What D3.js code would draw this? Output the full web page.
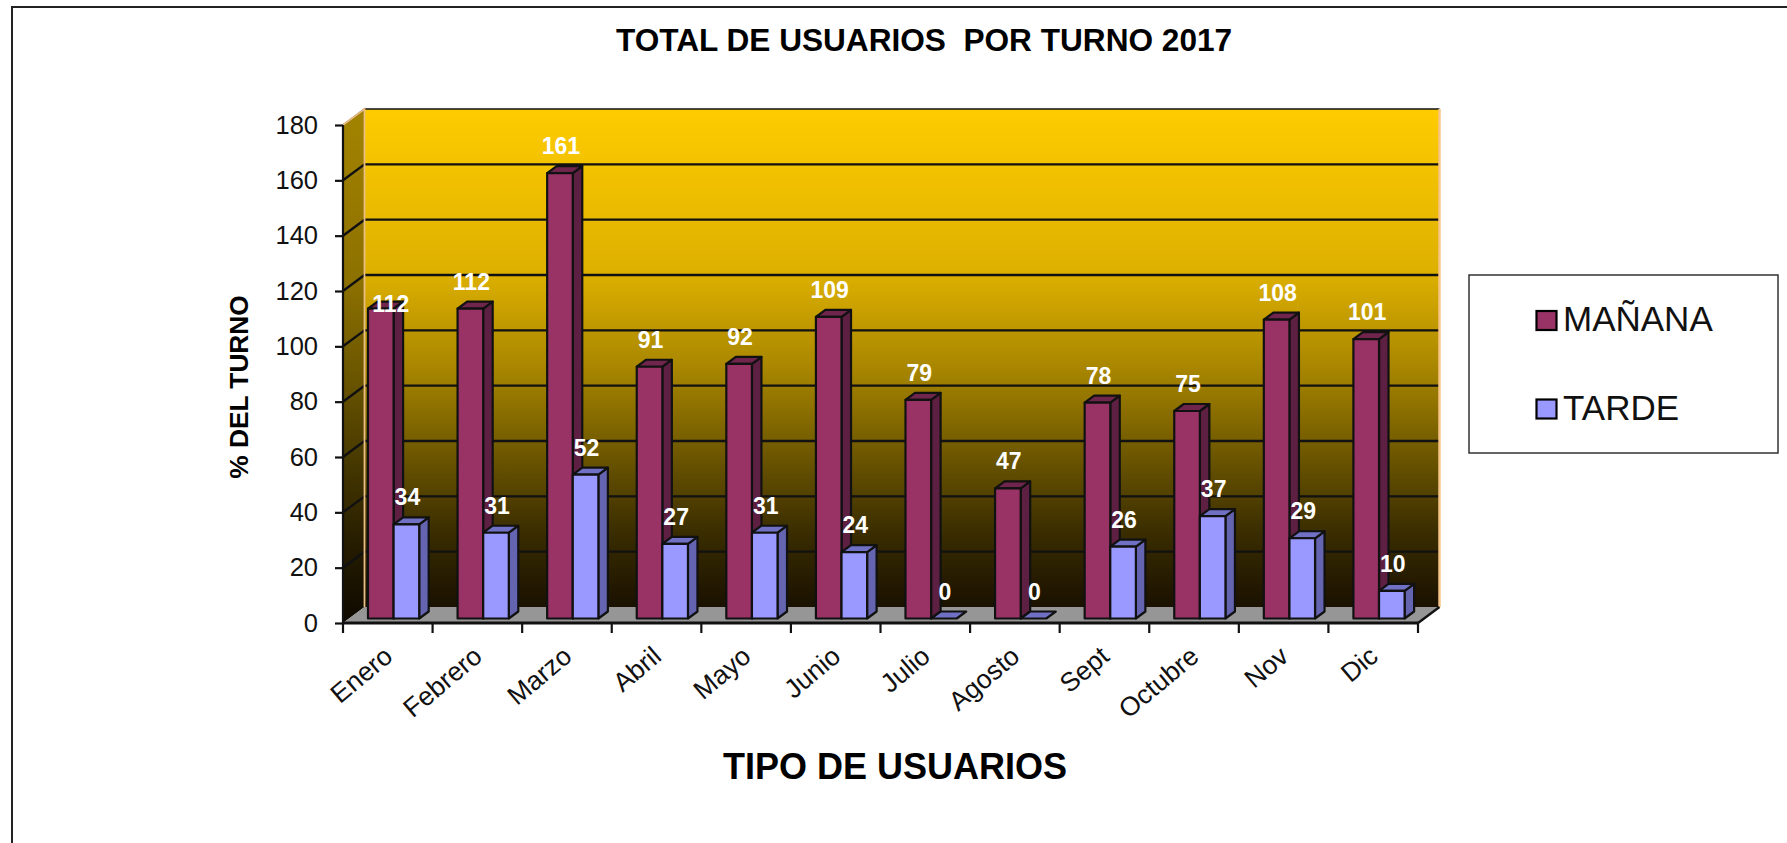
<!DOCTYPE html>
<html><head><meta charset="utf-8">
<script src="https://cdn.jsdelivr.net/npm/d3@7/dist/d3.min.js"></script>
<style>html,body{margin:0;padding:0;background:#fff}svg{display:block;font-family:"Liberation Sans",Arial,sans-serif}</style>
</head><body><svg id="c" width="1787" height="843"></svg>
<script>
const months = ["Enero","Febrero","Marzo","Abril","Mayo","Junio","Julio","Agosto","Sept","Octubre","Nov","Dic"];
const manana = [112,112,161,91,92,109,79,47,78,75,108,101];
const tarde = [34,31,52,27,31,24,0,0,26,37,29,10];
const yTicks = [0,20,40,60,80,100,120,140,160,180];
const seriesNames = ["MAÑANA","TARDE"];
const seriesFront = ["#993366","#9999ff"];
const seriesSide = ["#5e2042","#6464b0"];
const seriesTop = ["#70264c","#7070c4"];

const svg = d3.select("#c");
const L=343,R=1418,T=125,B=623,DX=21.5,DY=16;
const x = d3.scaleBand().domain(months).range([L,R]);
const y = d3.scaleLinear().domain([0,180]).range([B,T]);
const line = d3.line();

const defs = svg.append("defs");
function grad(id,stops){const g=defs.append("linearGradient").attr("id",id).attr("x1",0).attr("y1",0).attr("x2",0).attr("y2",1);
  stops.forEach(s=>g.append("stop").attr("offset",s[0]).attr("stop-color",s[1]));}
grad("wall",[[0,"#ffcc00"],[0.33,"#ddb000"],[0.52,"#a88600"],[0.7,"#6b5500"],[0.85,"#3a2d00"],[1,"#1a1100"]]);
grad("side",[[0,"#a38300"],[0.33,"#8d7100"],[0.52,"#6b5600"],[0.7,"#443600"],[0.85,"#251c00"],[1,"#0e0900"]]);

// outer frame (only top and left are in view)
svg.append("path").attr("d",line([[12,843],[12,7],[1787,7]])).attr("fill","none").attr("stroke","#222").attr("stroke-width",2);

// walls and floor
const yBack = v=>y(v)-DY;
svg.append("rect").attr("x",L+DX).attr("y",yBack(180)).attr("width",R-L).attr("height",y(0)-y(180)).attr("fill","url(#wall)");
svg.append("path").attr("d",line([[L,y(180)],[L+DX,yBack(180)],[L+DX,yBack(0)],[L,y(0)]])+"Z").attr("fill","url(#side)");
svg.append("path").attr("d",line([[L,y(0)],[L+DX,yBack(0)],[R+DX,yBack(0)],[R,y(0)]])+"Z").attr("fill","#969696");

// gridlines
yTicks.forEach(v=>{
  if(v>0 && v<=180) svg.append("path").attr("d",line([[L,y(v)],[L+DX,yBack(v)],[R+DX,yBack(v)]])).attr("fill","none").attr("stroke","#111").attr("stroke-width",v===180?1.5:2.4);
});
// peach edges
svg.append("path").attr("d",line([[L,y(180)],[L+DX,yBack(180)],[L+DX,yBack(0)]])).attr("fill","none").attr("stroke","#e9bd83").attr("stroke-width",1.8);
svg.append("path").attr("d",line([[R+DX,yBack(180)],[R+DX,yBack(0)]])).attr("fill","none").attr("stroke","#f6c587").attr("stroke-width",2.5);
svg.append("path").attr("d",line([[R,y(0)],[R+DX,yBack(0)]])).attr("fill","none").attr("stroke","#111").attr("stroke-width",2.4);

// bars
const barW=25.6, barOff=25, baseLift=4.5, bdx=9.5, bdy=7;
function bar(g,cat,val,s){
  const x0=x(cat)+barOff+s*barW, x1=x0+barW, yb=y(0)-baseLift, yt=yb-(y(0)-y(val));
  const st=p=>g.append("path").attr("d",line(p)+"Z").attr("stroke","#111").attr("stroke-width",2.2).attr("stroke-linejoin","round");
  if(val===0){ st([[x0,yb],[x0+bdx,yb-bdy],[x1+bdx,yb-bdy],[x1,yb]]).attr("fill",seriesTop[s]); return; }
  st([[x1,yb],[x1+bdx,yb-bdy],[x1+bdx,yt-bdy],[x1,yt]]).attr("fill",seriesSide[s]);
  st([[x0,yt],[x0+bdx,yt-bdy],[x1+bdx,yt-bdy],[x1,yt]]).attr("fill",seriesTop[s]);
  st([[x0,yb],[x0,yt],[x1,yt],[x1,yb]]).attr("fill",seriesFront[s]);
}
const barsG=svg.append("g");
months.forEach((m,i)=>{bar(barsG,m,manana[i],0);bar(barsG,m,tarde[i],1);});

// axes
const yAxis=d3.axisLeft(y).tickValues(yTicks).tickSize(8).tickPadding(17);
const ya=svg.append("g").attr("transform",`translate(${L},0)`).call(yAxis);
ya.selectAll("line").attr("stroke","#111").attr("stroke-width",2.2);
ya.select(".domain").attr("stroke","#111").attr("stroke-width",2.2).attr("d",`M0,${T}V${B}`);
ya.selectAll("text").attr("font-size",25.5).attr("fill","#111").attr("font-family","Liberation Sans");

const xa=svg.append("g").attr("transform",`translate(0,${B})`);
xa.append("path").attr("d",line([[L,0],[R,0]])).attr("stroke","#111").attr("stroke-width",2.8);
d3.range(months.length+1).forEach(i=>{
  const px=i<months.length?x(months[i]):R;
  xa.append("line").attr("x1",px).attr("x2",px).attr("y1",0).attr("y2",10).attr("stroke","#111").attr("stroke-width",2.2);
});
months.forEach(m=>{
  const cx=x(m)+x.bandwidth()/2+6.5, cy=659;
  svg.append("text").attr("transform",`translate(${cx},${cy}) rotate(-40)`).attr("text-anchor","end")
    .attr("font-size",26.5).attr("fill","#111").text(m);
});

// data labels
const nudge={"0-0":[9,22]};
function label(cat,val,s){
  const x0=x(cat)+barOff+s*barW+barW/2+1, yb=y(0)-baseLift, yt=yb-(y(0)-y(val));
  const n=nudge[months.indexOf(cat)+"-"+s]||[0,0];
  svg.append("text").attr("x",x0+n[0]).attr("y",yt-19+n[1]).attr("text-anchor","middle")
    .attr("font-size",23).attr("font-weight","bold").attr("fill","#fff").text(val);
}
months.forEach((m,i)=>{label(m,manana[i],0);label(m,tarde[i],1);});

// titles
svg.append("text").attr("x",924).attr("y",51).attr("text-anchor","middle").attr("font-size",31.6).attr("font-weight","bold").attr("fill","#000").style("white-space","pre").text("TOTAL DE USUARIOS  POR TURNO 2017");
svg.append("text").attr("x",895).attr("y",779).attr("text-anchor","middle").attr("font-size",36).attr("font-weight","bold").attr("fill","#000").text("TIPO DE USUARIOS");
svg.append("text").attr("transform","translate(248,387) rotate(-90)").attr("text-anchor","middle").attr("font-size",26.3).attr("font-weight","bold").attr("fill","#000").text("% DEL TURNO");

// legend
const lg=svg.append("g");
lg.append("rect").attr("x",1469).attr("y",275).attr("width",309).attr("height",178).attr("fill","#fff").attr("stroke","#333").attr("stroke-width",1.5);
seriesNames.forEach((n,i)=>{
  const yy=311+i*88.5;
  lg.append("rect").attr("x",1536.5).attr("y",yy).attr("width",20).attr("height",19).attr("fill",seriesFront[i]).attr("stroke","#000").attr("stroke-width",2.2);
  lg.append("text").attr("x",1563).attr("y",yy+20).attr("font-size",35).attr("fill","#111").text(n);
});
</script></body></html>
